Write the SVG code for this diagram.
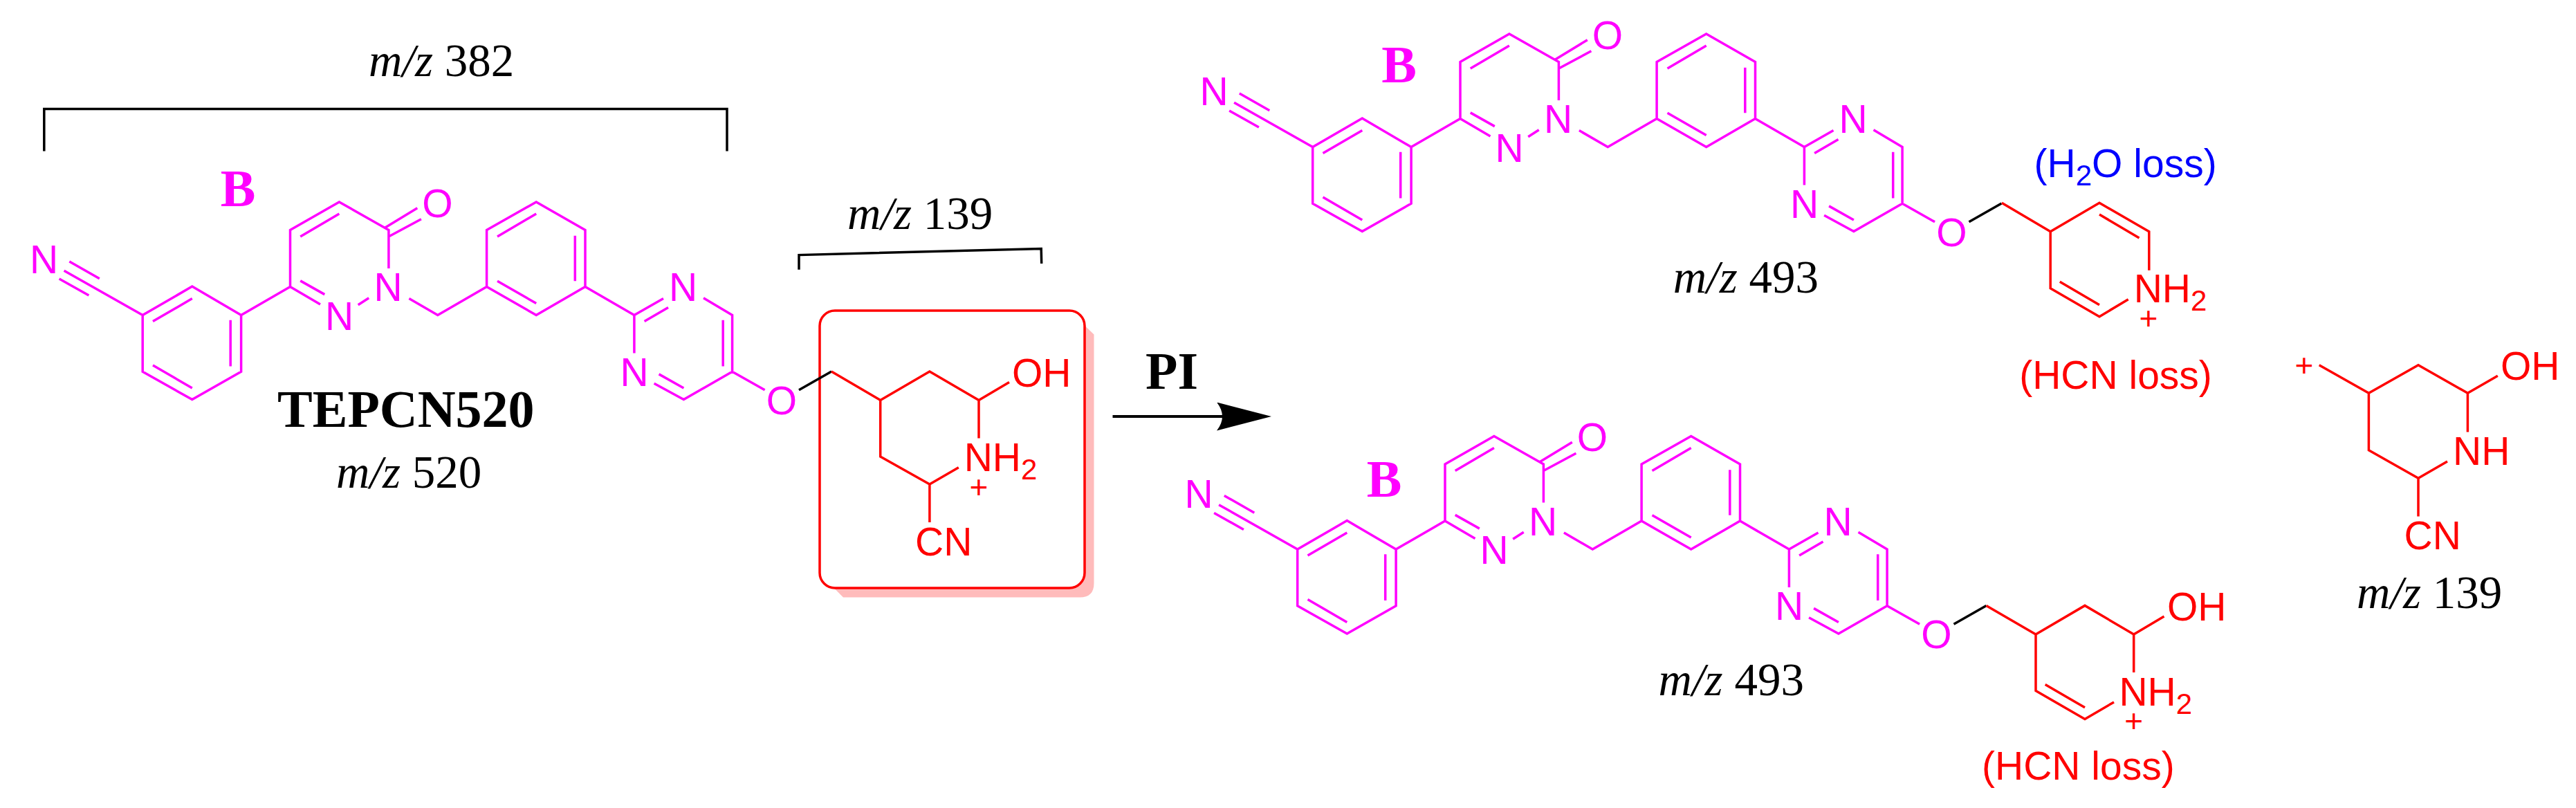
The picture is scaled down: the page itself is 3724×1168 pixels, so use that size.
<svg xmlns="http://www.w3.org/2000/svg" xmlns:xlink="http://www.w3.org/1999/xlink" width="3724" height="1168" viewBox="0 0 3724 1168">
<style>
text{font-family:"Liberation Sans",Arial,sans-serif;font-size:57px}
.m{fill:#ff00ff;text-anchor:middle}
.r{fill:#ff0000}
.rm{fill:#ff0000;text-anchor:middle;font-size:46px}
.sub{font-size:42px}
.t{font-family:"Liberation Serif","Times New Roman",serif;font-size:67px;fill:#000}
.i{font-style:italic}
.b{font-family:"Liberation Serif","Times New Roman",serif;font-weight:bold;font-size:76px}
.lm{fill:none;stroke:#ff00ff;stroke-width:3.5}
.lr{fill:none;stroke:#ff0000;stroke-width:3.5}
.lk{fill:none;stroke:#000;stroke-width:3.5}
</style>
<defs>
<marker id="head" markerUnits="userSpaceOnUse" viewBox="0 0 79 41" refX="16" refY="20.5" markerWidth="79" markerHeight="41" orient="auto"><path d="M79,20.5 L0,0 Q16,20.5 0,41 Z" fill="#000"/></marker>
<g id="backbone">
<path class="lm" d="M206.2,455.5 L277.8,414.1 L348.6,455.5 V537.2 L277.8,577.6 L206.2,537.2 Z M221,464.6 L277.8,431.6 M333.2,462.8 V529.4 M221,528 L277.8,561 M92.6,391.2 L206.2,455.5 M100.3,377.9 L143.8,402.7 M85.6,403 L128.4,427 M348.6,455.5 L419.5,414.6 M463,439.9 L419.5,414.6 V332.4 L490.4,292 L561.9,332.4 V388 M434.2,342 L490.4,309 M434.2,405.9 L469.3,425.6 M517.7,440.8 L533.2,430.7 M555.6,329.7 L603.3,300.7 M561.9,342 L608.9,316.8 M591.4,431.6 L632.8,455.5 L703.6,414.6 M703.6,414.6 V332.4 L775.2,292 L846,332.4 V414.6 L775.2,455.5 Z M719,342 L775.2,309 M831.3,340.7 V406.3 M719,406.3 L775.2,438.5 M846,414.6 L916.9,455.5 M916.9,510.6 V455.5 L959,431.6 M931.6,464.6 L966,444.5 M1017,430.7 L1058.6,455.5 V537.2 L988.4,577.6 L945.6,554.2 M1045.2,462.8 V529.4 M988.4,561 L952.6,540.9 M1058.6,537.2 L1105.6,563.8"/>
<path class="lk" d="M1155,563.8 L1202,537"/>
</g>
</defs>

<g id="brackets">
<path class="lk" d="M63.8,218.5 V157.5 H1051 V218.5"/>
<path class="lk" d="M1155,389.7 V368.6 L1505.2,359.5 L1505.7,381"/>
</g>
<g id="connectors">
<line x1="1608.5" y1="602" x2="1775" y2="602" stroke="#000" stroke-width="4" marker-end="url(#head)"/>
</g>

<g id="tepcn520">
<path fill="#ffbbbb" d="M1569.5,472 L1581.5,483.5 V843 Q1581.5,863.6 1561,863.6 H1219 L1206.6,851 Z"/>
<rect x="1185" y="449" width="383" height="401" rx="22" ry="22" fill="#fff" stroke="#ff0000" stroke-width="3.5"/>
<use href="#backbone"/>
<path class="lr" d="M1202,537 L1272.7,578.4 L1343.9,537 L1415,578.4 V633.5 M1459,552.6 L1415,578.4 M1272.7,578.4 V660 L1343.9,700 L1385.8,675.8 M1343.9,700 V755"/>
<text class="m" x="63.5" y="395">N</text>
<text class="m" x="490.5" y="476.6">N</text>
<text class="m" x="561.2" y="435">N</text>
<text class="m" x="632.5" y="313.5">O</text>
<text class="m" x="987.5" y="435">N</text>
<text class="m" x="917" y="557.8">N</text>
<text class="m" x="1130" y="598.5">O</text>
<text class="r" x="1463" y="558.5">OH</text>
<text class="r" x="1393.7" y="681">NH<tspan class="sub" dy="12">2</tspan></text>
<text class="rm" x="1415" y="719.6">+</text>
<text class="r" x="1323" y="803">CN</text>
<text class="m b" x="344" y="297.5">B</text>
<text class="b" x="401" y="617">TEPCN520</text>
<text class="t" x="533" y="110"><tspan class="i">m/z</tspan> 382</text>
<text class="t" x="1225" y="331"><tspan class="i">m/z</tspan> 139</text>
<text class="t" x="486" y="705"><tspan class="i">m/z</tspan> 520</text>
</g>

<text id="pi" class="b" x="1656" y="562">PI</text>

<g id="ion-493-top">
<g transform="translate(1691.5,-243)">
<use href="#backbone"/>
<text class="m" x="63.5" y="395">N</text>
<text class="m" x="490.5" y="476.6">N</text>
<text class="m" x="561.2" y="435">N</text>
<text class="m" x="632.5" y="313.5">O</text>
<text class="m" x="987.5" y="435">N</text>
<text class="m" x="917" y="557.8">N</text>
<text class="m" x="1130" y="598.5">O</text>
</g>
<path class="lr" d="M2893.9,293.3 L2964.2,334.7 L3035,293.3 L3106.8,334.7 V390.7 M3035,310 L3092.5,344 M2964.2,334.7 V416.7 L3035,457.7 L3076.7,432.7 M2977.8,407.3 L3035,440.7"/>
<text class="r" x="3084.7" y="437.3">NH<tspan class="sub" dy="12">2</tspan></text>
<text class="rm" x="3106" y="475.6">+</text>
<text class="m b" x="2022.5" y="119.4">B</text>
<text class="t" x="2418.7" y="423"><tspan class="i">m/z</tspan> 493</text>
<text x="2940.6" y="256" fill="#0000ff">(H<tspan class="sub" dy="12">2</tspan><tspan dy="-12">O loss)</tspan></text>
<text class="r" x="2919.2" y="562.3">(HCN loss)</text>
</g>

<g id="ion-493-bottom">
<g transform="translate(1669.5,338.5)">
<use href="#backbone"/>
<text class="m" x="63.5" y="395">N</text>
<text class="m" x="490.5" y="476.6">N</text>
<text class="m" x="561.2" y="435">N</text>
<text class="m" x="632.5" y="313.5">O</text>
<text class="m" x="987.5" y="435">N</text>
<text class="m" x="917" y="557.8">N</text>
<text class="m" x="1130" y="598.5">O</text>
</g>
<path class="lr" d="M2871.5,875.5 L2943,917 L3014,875.4 L3084.7,917 V972 M3128.5,891 L3084.7,917 M2943,917 V998.5 L3014,1039.5 L3056,1014.9 M2956.7,989.5 L3014,1022.8"/>
<text class="r" x="3133" y="897">OH</text>
<text class="r" x="3063.4" y="1019.5">NH<tspan class="sub" dy="12">2</tspan></text>
<text class="rm" x="3084.7" y="1057.6">+</text>
<text class="m b" x="2001" y="718">B</text>
<text class="t" x="2397.6" y="1004.8"><tspan class="i">m/z</tspan> 493</text>
<text class="r" x="2865" y="1126.5">(HCN loss)</text>
</g>

<g id="fragment-139">
<path class="lr" d="M3352.7,527.7 L3424.4,568.3 L3496,527.7 L3567.4,568.3 V624.6 M3610.8,543.3 L3567.4,568.3 M3424.4,568.3 V650.7 L3496,691.3 L3538,667 M3496,691.3 V746.4"/>
<text class="rm" x="3331" y="544">+</text>
<text class="r" x="3615" y="549">OH</text>
<text class="r" x="3546" y="671.7">NH</text>
<text class="r" x="3475.6" y="794.4">CN</text>
<text class="t" x="3407" y="879"><tspan class="i">m/z</tspan> 139</text>
</g>
</svg>
